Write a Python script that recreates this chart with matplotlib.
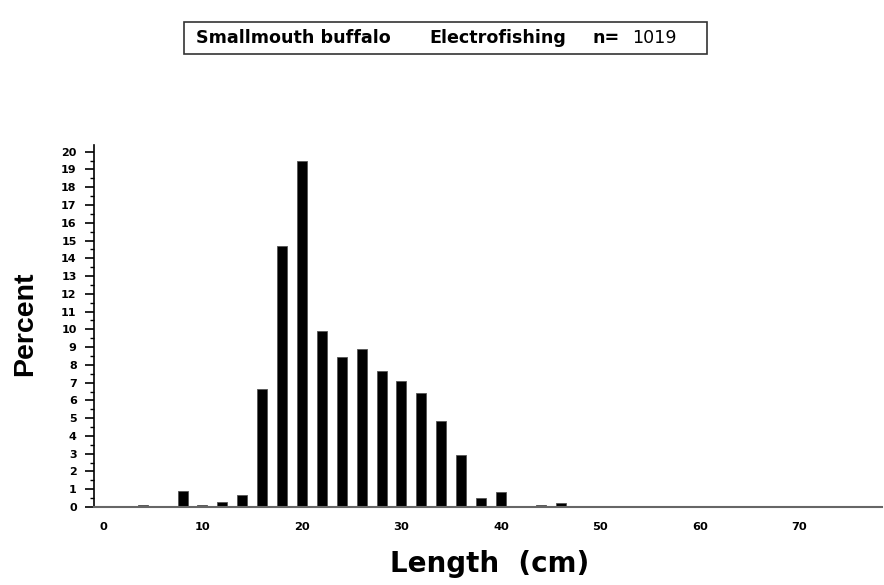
import matplotlib
matplotlib.use("Agg")
import matplotlib.pyplot as plt
from matplotlib.patches import Rectangle

# length class midpoints (cm) and percent of catch
length_cm = [4, 8, 10, 12, 14, 16, 18, 20, 22, 24, 26, 28, 30, 32, 34, 36, 38, 40, 44, 46]
percent = [0.1, 0.88, 0.1, 0.3, 0.7, 6.63, 14.67, 19.5, 9.88, 8.47, 8.88, 7.63, 7.1,
           6.4, 4.83, 2.91, 0.49, 0.85, 0.1, 0.25]
x_ticks = [0, 10, 20, 30, 40, 50, 60, 70]
y_ticks = list(range(0, 21))

title_parts = ["Smallmouth buffalo", "Electrofishing", "n=", "1019"]

W, H = 884, 585
fig = plt.figure(figsize=(W / 100, H / 100), dpi=100)
ax = fig.add_axes([94 / W, 1 - 507 / H, (882 - 94) / W, (507 - 144.6) / H])

ax.bar(length_cm, percent, width=1.0, color="black", edgecolor="#555555", linewidth=0.6)
ax.set_xlim(-0.9, 78.3)
ax.set_ylim(0, 20.4)

for s in ("top", "right"):
    ax.spines[s].set_visible(False)
ax.spines["bottom"].set_color("#666666")
ax.spines["bottom"].set_linewidth(1.5)
ax.spines["left"].set_linewidth(1.2)

ax.set_xticks(x_ticks)
ax.set_xticklabels([str(t) for t in x_ticks], fontsize=8.2, fontweight="bold")
ax.tick_params(axis="x", length=0, pad=10.5)
ax.set_yticks(y_ticks)
ax.set_yticklabels([str(t) for t in y_ticks], fontsize=8, fontweight="bold")
ax.set_yticks([v + 0.5 for v in y_ticks[:-1]], minor=True)
ax.tick_params(axis="y", which="major", length=6.5, width=1.2, pad=6)
ax.tick_params(axis="y", which="minor", length=3, width=1.0)

fig.text(25 / W, 1 - 324 / H, "Percent", rotation=90, fontsize=20.5, fontweight="bold",
         family="Liberation Sans", ha="center", va="center")
fig.text(490 / W, 1 - 571.7 / H, "Length  (cm)", fontsize=20, fontweight="bold",
         ha="center", va="baseline")

# title box
fig.patches.append(Rectangle((184 / W, 1 - 54 / H), (707 - 184) / W, 32 / H,
                             transform=fig.transFigure, fill=False,
                             edgecolor="#333333", linewidth=1.2))
title_x = [196, 429, 593, 632]
for txt, xp in zip(title_parts, title_x):
    fig.text(xp / W, 1 - 43 / H, txt, fontsize=12.6,
             fontweight="normal" if txt == "1019" else "bold",
             ha="left", va="baseline")

fig.savefig("out.png", dpi=100)
